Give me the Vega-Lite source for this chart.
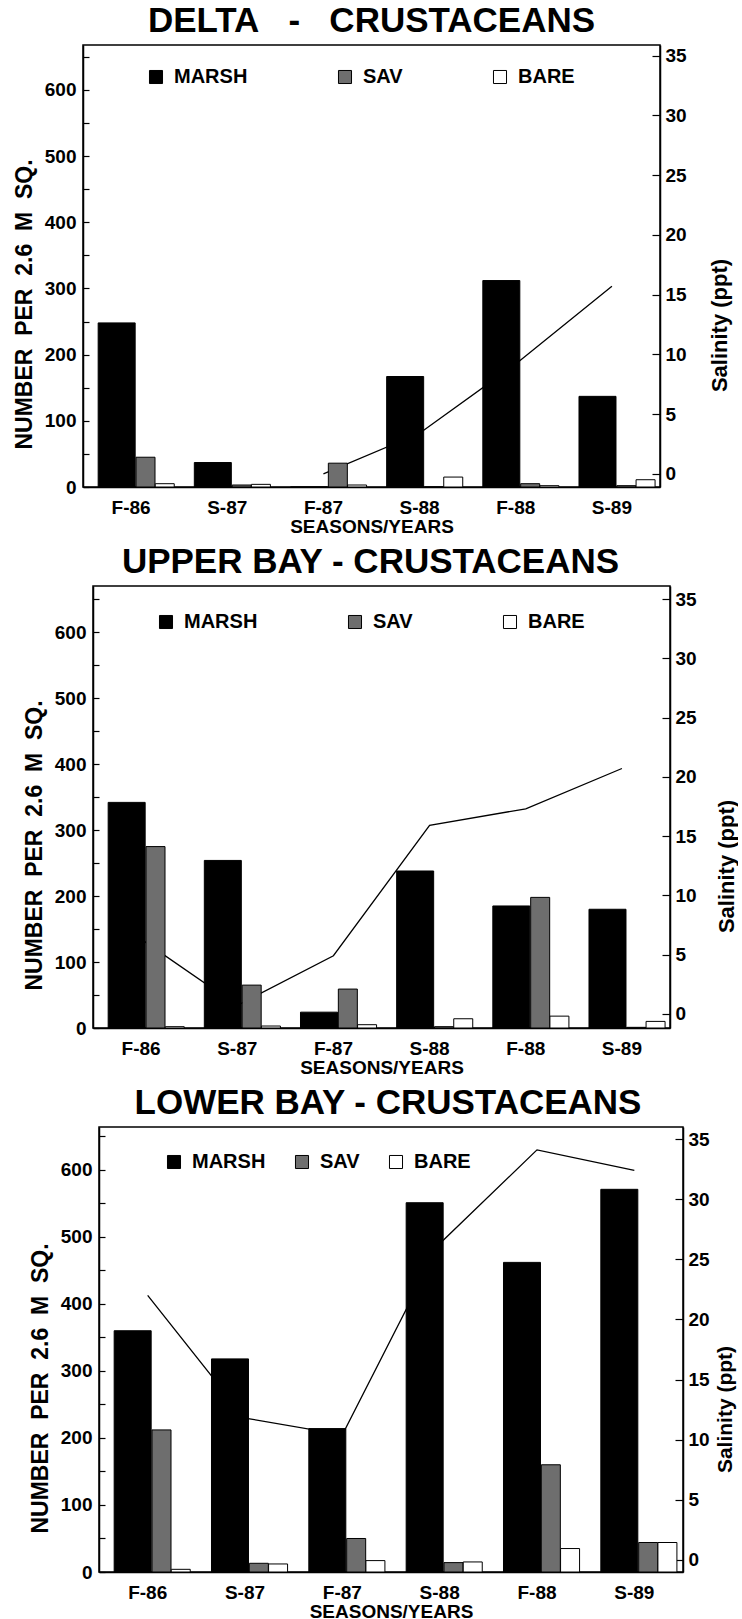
{
  "$schema": "https://vega.github.io/schema/vega-lite/v6.json",
  "background": "white",
  "padding": {"left": 11, "top": 3, "right": 0, "bottom": 0},
  "config": {
    "font": "Liberation Sans",
    "view": {"stroke": "black", "strokeWidth": 1.5},
    "axis": {"domainColor": "black", "domainWidth": 1.5, "tickColor": "black", "tickWidth": 1.2, "labelColor": "black", "titleColor": "black", "labelFont": "Liberation Sans", "titleFont": "Liberation Sans", "labelFontWeight": "bold", "titleFontWeight": "bold", "grid": false},
    "title": {"font": "Liberation Sans", "fontSize": 35, "fontWeight": "bold", "color": "black", "anchor": "middle", "offset": 6},
    "legend": {"labelFont": "Liberation Sans", "labelFontWeight": "bold", "labelColor": "black"}
  },
  "datasets": {
    "bars": [
      {"region": "DELTA", "season": "F-86", "type": "MARSH", "count": 248},
      {"region": "DELTA", "season": "F-86", "type": "SAV", "count": 45},
      {"region": "DELTA", "season": "F-86", "type": "BARE", "count": 5},
      {"region": "DELTA", "season": "S-87", "type": "MARSH", "count": 37},
      {"region": "DELTA", "season": "S-87", "type": "SAV", "count": 3},
      {"region": "DELTA", "season": "S-87", "type": "BARE", "count": 4},
      {"region": "DELTA", "season": "F-87", "type": "MARSH", "count": 0},
      {"region": "DELTA", "season": "F-87", "type": "SAV", "count": 36},
      {"region": "DELTA", "season": "F-87", "type": "BARE", "count": 3},
      {"region": "DELTA", "season": "S-88", "type": "MARSH", "count": 167},
      {"region": "DELTA", "season": "S-88", "type": "SAV", "count": 0},
      {"region": "DELTA", "season": "S-88", "type": "BARE", "count": 15},
      {"region": "DELTA", "season": "F-88", "type": "MARSH", "count": 312},
      {"region": "DELTA", "season": "F-88", "type": "SAV", "count": 5},
      {"region": "DELTA", "season": "F-88", "type": "BARE", "count": 2},
      {"region": "DELTA", "season": "S-89", "type": "MARSH", "count": 137},
      {"region": "DELTA", "season": "S-89", "type": "SAV", "count": 2},
      {"region": "DELTA", "season": "S-89", "type": "BARE", "count": 11},
      {"region": "UPPER", "season": "F-86", "type": "MARSH", "count": 342},
      {"region": "UPPER", "season": "F-86", "type": "SAV", "count": 275},
      {"region": "UPPER", "season": "F-86", "type": "BARE", "count": 2},
      {"region": "UPPER", "season": "S-87", "type": "MARSH", "count": 254},
      {"region": "UPPER", "season": "S-87", "type": "SAV", "count": 65},
      {"region": "UPPER", "season": "S-87", "type": "BARE", "count": 3},
      {"region": "UPPER", "season": "F-87", "type": "MARSH", "count": 24},
      {"region": "UPPER", "season": "F-87", "type": "SAV", "count": 59},
      {"region": "UPPER", "season": "F-87", "type": "BARE", "count": 5},
      {"region": "UPPER", "season": "S-88", "type": "MARSH", "count": 238},
      {"region": "UPPER", "season": "S-88", "type": "SAV", "count": 2},
      {"region": "UPPER", "season": "S-88", "type": "BARE", "count": 14},
      {"region": "UPPER", "season": "F-88", "type": "MARSH", "count": 185},
      {"region": "UPPER", "season": "F-88", "type": "SAV", "count": 198},
      {"region": "UPPER", "season": "F-88", "type": "BARE", "count": 18},
      {"region": "UPPER", "season": "S-89", "type": "MARSH", "count": 180},
      {"region": "UPPER", "season": "S-89", "type": "SAV", "count": 1},
      {"region": "UPPER", "season": "S-89", "type": "BARE", "count": 10},
      {"region": "LOWER", "season": "F-86", "type": "MARSH", "count": 360},
      {"region": "LOWER", "season": "F-86", "type": "SAV", "count": 212},
      {"region": "LOWER", "season": "F-86", "type": "BARE", "count": 4},
      {"region": "LOWER", "season": "S-87", "type": "MARSH", "count": 318},
      {"region": "LOWER", "season": "S-87", "type": "SAV", "count": 13},
      {"region": "LOWER", "season": "S-87", "type": "BARE", "count": 12},
      {"region": "LOWER", "season": "F-87", "type": "MARSH", "count": 214},
      {"region": "LOWER", "season": "F-87", "type": "SAV", "count": 50},
      {"region": "LOWER", "season": "F-87", "type": "BARE", "count": 17},
      {"region": "LOWER", "season": "S-88", "type": "MARSH", "count": 551},
      {"region": "LOWER", "season": "S-88", "type": "SAV", "count": 14},
      {"region": "LOWER", "season": "S-88", "type": "BARE", "count": 15},
      {"region": "LOWER", "season": "F-88", "type": "MARSH", "count": 462},
      {"region": "LOWER", "season": "F-88", "type": "SAV", "count": 160},
      {"region": "LOWER", "season": "F-88", "type": "BARE", "count": 35},
      {"region": "LOWER", "season": "S-89", "type": "MARSH", "count": 571},
      {"region": "LOWER", "season": "S-89", "type": "SAV", "count": 44},
      {"region": "LOWER", "season": "S-89", "type": "BARE", "count": 44}
    ],
    "sal": [
      {"region": "DELTA", "season": "F-87", "salinity": 0},
      {"region": "DELTA", "season": "S-88", "salinity": 3.4},
      {"region": "DELTA", "season": "F-88", "salinity": 9.2},
      {"region": "DELTA", "season": "S-89", "salinity": 15.7},
      {"region": "UPPER", "season": "F-86", "salinity": 6.3},
      {"region": "UPPER", "season": "S-87", "salinity": 0.7},
      {"region": "UPPER", "season": "F-87", "salinity": 4.9},
      {"region": "UPPER", "season": "S-88", "salinity": 15.9},
      {"region": "UPPER", "season": "F-88", "salinity": 17.3},
      {"region": "UPPER", "season": "S-89", "salinity": 20.7},
      {"region": "LOWER", "season": "F-86", "salinity": 22},
      {"region": "LOWER", "season": "S-87", "salinity": 11.8},
      {"region": "LOWER", "season": "F-87", "salinity": 10.4},
      {"region": "LOWER", "season": "S-88", "salinity": 26.3},
      {"region": "LOWER", "season": "F-88", "salinity": 34.1},
      {"region": "LOWER", "season": "S-89", "salinity": 32.4}
    ]
  },
  "spacing": 7,
  "resolve": {"scale": {"color": "independent"}, "legend": {"color": "independent"}},
  "vconcat": [
    {
      "spacing": 0,
      "hconcat": [
        {"width": 1, "height": 10, "view": {"stroke": null}, "data": {"values": []}, "mark": "point", "encoding": {}},
        {
          "width": 577, "height": 442,
          "title": {"text": "DELTA\u00a0\u00a0\u00a0-\u00a0\u00a0\u00a0CRUSTACEANS"},
          "layer": [
            {
              "data": {"name": "sal"},
              "transform": [{"filter": "datum.region === 'DELTA'"}],
              "mark": {"type": "line", "color": "black", "strokeWidth": 1.3},
              "encoding": {
                "x": {"field": "season", "type": "nominal", "sort": ["F-86", "S-87", "F-87", "S-88", "F-88", "S-89"], "scale": {"type": "band", "paddingInner": 0, "paddingOuter": 0}, "axis": {"title": "SEASONS/YEARS", "labelAngle": 0, "ticks": false, "labelFontSize": 19, "titleFontSize": 19, "labelPadding": 11, "titlePadding": 0}},
                "y": {"field": "salinity", "type": "quantitative", "scale": {"domain": [-1.1, 35.9], "nice": false, "zero": false}, "axis": {"title": "Salinity (ppt)", "orient": "right", "values": [0, 5, 10, 15, 20, 25, 30, 35], "tickSize": -8, "labelPadding": 13, "labelFontSize": 19, "titleFontSize": 22, "titleAngle": 270, "titleBaseline": "top", "titlePadding": 23, "titleY": 280}}
              }
            },
            {
              "data": {"name": "bars"},
              "transform": [{"filter": "datum.region === 'DELTA'"}],
              "encoding": {
                "x": {"field": "season", "type": "nominal", "sort": ["F-86", "S-87", "F-87", "S-88", "F-88", "S-89"], "scale": {"type": "band", "paddingInner": 0, "paddingOuter": 0}, "axis": {"title": "SEASONS/YEARS", "labelAngle": 0, "ticks": false, "labelFontSize": 19, "titleFontSize": 19, "labelPadding": 11, "titlePadding": 0}},
                "xOffset": {"field": "type", "type": "nominal", "scale": {"domain": ["a0", "a1", "a2", "MARSH", "a4", "a5", "SAV", "a7", "BARE", "a9"], "paddingInner": 0, "paddingOuter": 0}},
                "y": {"field": "count", "type": "quantitative", "scale": {"domain": [0, 668], "nice": false}, "axis": {"title": "NUMBER\u00a0\u00a0PER\u00a0\u00a02.6\u00a0\u00a0M\u00a0\u00a0SQ.", "orient": "left", "values": [0, 50, 100, 150, 200, 250, 300, 350, 400, 450, 500, 550, 600, 650], "labelExpr": "datum.value % 100 === 0 ? datum.label : ''", "tickSize": -6, "labelPadding": 13, "labelFontSize": 19, "titleFontSize": 23, "titlePadding": 8, "titleY": 259}},
                "color": {"field": "type", "type": "nominal", "scale": {"domain": ["MARSH", "SAV", "BARE"], "range": ["black", "#6e6e6e", "white"]}, "legend": {"title": null, "orient": "none", "legendX": 135, "legendY": 22, "direction": "horizontal", "columns": 3, "columnPadding": 87, "symbolType": "square", "symbolSize": 170, "symbolStrokeColor": "black", "symbolStrokeWidth": 1, "labelFontSize": 20, "labelOffset": 8}}
              },
              "layer": [
                {"transform": [{"filter": "datum.type === 'MARSH'"}], "mark": {"type": "bar", "stroke": "black", "strokeWidth": 1, "width": 37}},
                {"transform": [{"filter": "datum.type === 'SAV'"}], "mark": {"type": "bar", "stroke": "black", "strokeWidth": 1, "width": 19}},
                {"transform": [{"filter": "datum.type === 'BARE'"}], "mark": {"type": "bar", "stroke": "black", "strokeWidth": 1, "width": 19}}
              ]
            }
          ],
          "resolve": {"scale": {"y": "independent"}, "axis": {"y": "independent"}}
        }
      ]
    },
    {
      "spacing": 0,
      "hconcat": [
        {"width": 11, "height": 10, "view": {"stroke": null}, "data": {"values": []}, "mark": "point", "encoding": {}},
        {
          "width": 577, "height": 442,
          "title": {"text": "UPPER BAY - CRUSTACEANS", "dx": -11},
          "layer": [
            {
              "data": {"name": "sal"},
              "transform": [{"filter": "datum.region === 'UPPER'"}],
              "mark": {"type": "line", "color": "black", "strokeWidth": 1.3},
              "encoding": {
                "x": {"field": "season", "type": "nominal", "sort": ["F-86", "S-87", "F-87", "S-88", "F-88", "S-89"], "scale": {"type": "band", "paddingInner": 0, "paddingOuter": 0}, "axis": {"title": "SEASONS/YEARS", "labelAngle": 0, "ticks": false, "labelFontSize": 19, "titleFontSize": 19, "labelPadding": 11, "titlePadding": 0}},
                "y": {"field": "salinity", "type": "quantitative", "scale": {"domain": [-1.2, 36.1], "nice": false, "zero": false}, "axis": {"title": "Salinity (ppt)", "orient": "right", "values": [0, 5, 10, 15, 20, 25, 30, 35], "tickSize": -8, "labelPadding": 13, "labelFontSize": 19, "titleFontSize": 22, "titleAngle": 270, "titleBaseline": "top", "titlePadding": 20, "titleY": 280}}
              }
            },
            {
              "data": {"name": "bars"},
              "transform": [{"filter": "datum.region === 'UPPER'"}],
              "encoding": {
                "x": {"field": "season", "type": "nominal", "sort": ["F-86", "S-87", "F-87", "S-88", "F-88", "S-89"], "scale": {"type": "band", "paddingInner": 0, "paddingOuter": 0}, "axis": {"title": "SEASONS/YEARS", "labelAngle": 0, "ticks": false, "labelFontSize": 19, "titleFontSize": 19, "labelPadding": 11, "titlePadding": 0}},
                "xOffset": {"field": "type", "type": "nominal", "scale": {"domain": ["a0", "a1", "a2", "MARSH", "a4", "a5", "SAV", "a7", "BARE", "a9"], "paddingInner": 0, "paddingOuter": 0}},
                "y": {"field": "count", "type": "quantitative", "scale": {"domain": [0, 670], "nice": false}, "axis": {"title": "NUMBER\u00a0\u00a0PER\u00a0\u00a02.6\u00a0\u00a0M\u00a0\u00a0SQ.", "orient": "left", "values": [0, 50, 100, 150, 200, 250, 300, 350, 400, 450, 500, 550, 600, 650], "labelExpr": "datum.value % 100 === 0 ? datum.label : ''", "tickSize": -6, "labelPadding": 13, "labelFontSize": 19, "titleFontSize": 23, "titlePadding": 8, "titleY": 259}},
                "color": {"field": "type", "type": "nominal", "scale": {"domain": ["MARSH", "SAV", "BARE"], "range": ["black", "#6e6e6e", "white"]}, "legend": {"title": null, "orient": "none", "legendX": 145, "legendY": 26, "direction": "horizontal", "columns": 3, "columnPadding": 87, "symbolType": "square", "symbolSize": 170, "symbolStrokeColor": "black", "symbolStrokeWidth": 1, "labelFontSize": 20, "labelOffset": 8}}
              },
              "layer": [
                {"transform": [{"filter": "datum.type === 'MARSH'"}], "mark": {"type": "bar", "stroke": "black", "strokeWidth": 1, "width": 37}},
                {"transform": [{"filter": "datum.type === 'SAV'"}], "mark": {"type": "bar", "stroke": "black", "strokeWidth": 1, "width": 19}},
                {"transform": [{"filter": "datum.type === 'BARE'"}], "mark": {"type": "bar", "stroke": "black", "strokeWidth": 1, "width": 19}}
              ]
            }
          ],
          "resolve": {"scale": {"y": "independent"}, "axis": {"y": "independent"}}
        }
      ]
    },
    {
      "spacing": 0,
      "hconcat": [
        {"width": 17, "height": 10, "view": {"stroke": null}, "data": {"values": []}, "mark": "point", "encoding": {}},
        {
          "width": 584, "height": 445,
          "title": {"text": "LOWER BAY - CRUSTACEANS", "dx": -3},
          "layer": [
            {
              "data": {"name": "sal"},
              "transform": [{"filter": "datum.region === 'LOWER'"}],
              "mark": {"type": "line", "color": "black", "strokeWidth": 1.3},
              "encoding": {
                "x": {"field": "season", "type": "nominal", "sort": ["F-86", "S-87", "F-87", "S-88", "F-88", "S-89"], "scale": {"type": "band", "paddingInner": 0, "paddingOuter": 0}, "axis": {"title": "SEASONS/YEARS", "labelAngle": 0, "ticks": false, "labelFontSize": 19, "titleFontSize": 19, "labelPadding": 11, "titlePadding": 0}},
                "y": {"field": "salinity", "type": "quantitative", "scale": {"domain": [-1, 36], "nice": false, "zero": false}, "axis": {"title": "Salinity (ppt)", "orient": "right", "values": [0, 5, 10, 15, 20, 25, 30, 35], "tickSize": -8, "labelPadding": 13, "labelFontSize": 19, "titleFontSize": 21, "titleAngle": 270, "titleBaseline": "top", "titlePadding": 5, "titleY": 282}}
              }
            },
            {
              "data": {"name": "bars"},
              "transform": [{"filter": "datum.region === 'LOWER'"}],
              "encoding": {
                "x": {"field": "season", "type": "nominal", "sort": ["F-86", "S-87", "F-87", "S-88", "F-88", "S-89"], "scale": {"type": "band", "paddingInner": 0, "paddingOuter": 0}, "axis": {"title": "SEASONS/YEARS", "labelAngle": 0, "ticks": false, "labelFontSize": 19, "titleFontSize": 19, "labelPadding": 11, "titlePadding": 0}},
                "xOffset": {"field": "type", "type": "nominal", "scale": {"domain": ["a0", "a1", "a2", "MARSH", "a4", "a5", "SAV", "a7", "BARE", "a9"], "paddingInner": 0, "paddingOuter": 0}},
                "y": {"field": "count", "type": "quantitative", "scale": {"domain": [0, 664], "nice": false}, "axis": {"title": "NUMBER\u00a0\u00a0PER\u00a0\u00a02.6\u00a0\u00a0M\u00a0\u00a0SQ.", "orient": "left", "values": [0, 50, 100, 150, 200, 250, 300, 350, 400, 450, 500, 550, 600, 650], "labelExpr": "datum.value % 100 === 0 ? datum.label : ''", "tickSize": -6, "labelPadding": 13, "labelFontSize": 19, "titleFontSize": 23, "titlePadding": 8, "titleY": 261}},
                "color": {"field": "type", "type": "nominal", "scale": {"domain": ["MARSH", "SAV", "BARE"], "range": ["black", "#6e6e6e", "white"]}, "legend": {"title": null, "orient": "none", "legendX": 153, "legendY": 25, "direction": "horizontal", "columns": 3, "columnPadding": 26, "symbolType": "square", "symbolSize": 170, "symbolStrokeColor": "black", "symbolStrokeWidth": 1, "labelFontSize": 20, "labelOffset": 8}}
              },
              "layer": [
                {"transform": [{"filter": "datum.type === 'MARSH'"}], "mark": {"type": "bar", "stroke": "black", "strokeWidth": 1, "width": 37}},
                {"transform": [{"filter": "datum.type === 'SAV'"}], "mark": {"type": "bar", "stroke": "black", "strokeWidth": 1, "width": 19}},
                {"transform": [{"filter": "datum.type === 'BARE'"}], "mark": {"type": "bar", "stroke": "black", "strokeWidth": 1, "width": 19}}
              ]
            }
          ],
          "resolve": {"scale": {"y": "independent"}, "axis": {"y": "independent"}}
        }
      ]
    }
  ]
}
